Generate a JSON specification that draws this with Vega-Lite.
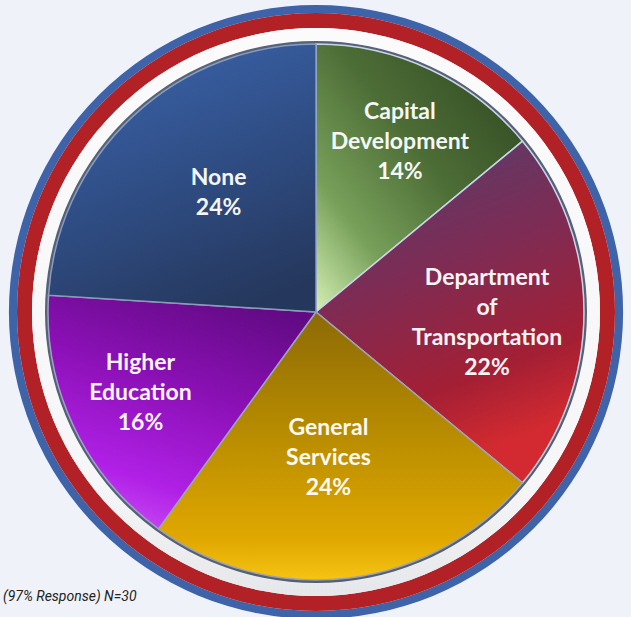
{
  "$schema": "https://vega.github.io/schema/vega-lite/v6.json",
  "width": 632,
  "height": 624,
  "autosize": {"type": "none"},
  "padding": 0,
  "background": "#eff3f9",
  "config": {"view": {"stroke": null}},
  "title": {
    "text": "(97% Response) N=30",
    "orient": "bottom",
    "anchor": "start",
    "frame": "group",
    "offset": -34,
    "dx": 3,
    "font": "Roboto",
    "fontSize": 14,
    "fontStyle": "italic",
    "fontWeight": "normal",
    "color": "#222222"
  },
  "layer": [
    {
      "data": {"values": [{"ring": "outer"}]},
      "mark": {"type": "arc", "radius": 307, "radius2": 299, "theta": 6.2832, "fill": "#3f63a8"},
      "encoding": {}
    },
    {
      "data": {"values": [{"ring": "red"}]},
      "mark": {"type": "arc", "radius": 299, "radius2": 284, "theta": 6.2832, "fill": "#b22126"},
      "encoding": {}
    },
    {
      "data": {"values": [{"ring": "white"}]},
      "mark": {"type": "arc", "radius": 284, "radius2": 0, "theta": 6.2832,
        "fill": {"gradient": "linear", "x1": 0, "y1": 0, "x2": 0, "y2": 1,
          "stops": [{"offset": 0, "color": "#fbfbfc"}, {"offset": 0.8, "color": "#f6f6f8"}, {"offset": 1, "color": "#e6e7ea"}]}},
      "encoding": {}
    },
    {
      "data": {"values": [{"ring": "edge"}]},
      "mark": {"type": "arc", "radius": 271, "radius2": 266, "theta": 6.2832, "fill": "#3a4660", "opacity": 0.85},
      "encoding": {}
    },
    {
      "data": {
        "values": [
          {"category": "Capital Development", "label": "Capital\nDevelopment", "value": 14, "order": 1},
          {"category": "Department of Transportation", "label": "Department\nof\nTransportation", "value": 22, "order": 2},
          {"category": "General Services", "label": "General\nServices", "value": 24, "order": 3},
          {"category": "Higher Education", "label": "Higher\nEducation", "value": 16, "order": 4},
          {"category": "None", "label": "None", "value": 24, "order": 5}
        ]
      },
      "transform": [
        {"stack": "value", "groupby": [], "sort": [{"field": "order"}], "as": ["v0", "v1"]},
        {"calculate": "(datum.v0 + datum.v1) / 2", "as": "mid"},
        {"calculate": "datum.label + '\\n' + datum.value + '%'", "as": "txt"}
      ],
      "layer": [
        {
          "transform": [{"filter": "datum.category == 'Capital Development'"}],
          "mark": {"type": "arc", "radius": 268, "stroke": "#c9d6ea", "strokeWidth": 1.5,
            "fill": {"gradient": "linear", "x1": 1, "y1": 0, "x2": 0, "y2": 1,
              "stops": [{"offset": 0, "color": "#2c441f"}, {"offset": 0.45, "color": "#4d6d36"}, {"offset": 0.75, "color": "#78a05a"}, {"offset": 1, "color": "#d4f0b4"}]}},
          "encoding": {
            "theta": {"field": "v0", "type": "quantitative", "scale": {"domain": [0, 100]}, "stack": null},
            "theta2": {"field": "v1"}
          }
        },
        {
          "transform": [{"filter": "datum.category == 'Department of Transportation'"}],
          "mark": {"type": "arc", "radius": 268, "stroke": "#c9d6ea", "strokeWidth": 1.5,
            "fill": {"gradient": "linear", "x1": 0, "y1": 0, "x2": 0.3, "y2": 1,
              "stops": [{"offset": 0, "color": "#4f416f"}, {"offset": 0.45, "color": "#7d2c55"}, {"offset": 0.8, "color": "#a41f34"}, {"offset": 1, "color": "#d22a30"}]}},
          "encoding": {
            "theta": {"field": "v0", "type": "quantitative", "scale": {"domain": [0, 100]}, "stack": null},
            "theta2": {"field": "v1"}
          }
        },
        {
          "transform": [{"filter": "datum.category == 'General Services'"}],
          "mark": {"type": "arc", "radius": 268, "stroke": "#9aa3b5", "strokeWidth": 1.5,
            "fill": {"gradient": "linear", "x1": 0, "y1": 0, "x2": 0, "y2": 1,
              "stops": [{"offset": 0, "color": "#8c6a06"}, {"offset": 0.45, "color": "#b88c00"}, {"offset": 0.85, "color": "#e0a800"}, {"offset": 1, "color": "#f6c414"}]}},
          "encoding": {
            "theta": {"field": "v0", "type": "quantitative", "scale": {"domain": [0, 100]}, "stack": null},
            "theta2": {"field": "v1"}
          }
        },
        {
          "transform": [{"filter": "datum.category == 'Higher Education'"}],
          "mark": {"type": "arc", "radius": 268, "stroke": "#9aa3c5", "strokeWidth": 1.5,
            "fill": {"gradient": "linear", "x1": 0.7, "y1": 0, "x2": 0.3, "y2": 1,
              "stops": [{"offset": 0, "color": "#620a84"}, {"offset": 0.4, "color": "#8a10b4"}, {"offset": 0.8, "color": "#b020e6"}, {"offset": 1, "color": "#c848f4"}]}},
          "encoding": {
            "theta": {"field": "v0", "type": "quantitative", "scale": {"domain": [0, 100]}, "stack": null},
            "theta2": {"field": "v1"}
          }
        },
        {
          "transform": [{"filter": "datum.category == 'None'"}],
          "mark": {"type": "arc", "radius": 268, "stroke": "#8a9cbc", "strokeWidth": 1.5,
            "fill": {"gradient": "linear", "x1": 0.3, "y1": 0, "x2": 0.7, "y2": 1,
              "stops": [{"offset": 0, "color": "#3a62a8"}, {"offset": 0.5, "color": "#2f4d84"}, {"offset": 1, "color": "#25375c"}]}},
          "encoding": {
            "theta": {"field": "v0", "type": "quantitative", "scale": {"domain": [0, 100]}, "stack": null},
            "theta2": {"field": "v1"}
          }
        },
        {
          "transform": [{"filter": "datum.category == 'Capital Development'"}],
          "mark": {"type": "text", "radius": 190, "dx": 3, "dy": -28, "font": "Lato", "fontSize": 23, "fontWeight": "bold", "color": "#ffffff", "opacity": 0.95, "lineBreak": "\n", "lineHeight": 30, "align": "center", "baseline": "middle"},
          "encoding": {
            "theta": {"field": "mid", "type": "quantitative", "scale": {"domain": [0, 100]}, "stack": null},
            "text": {"field": "txt"}
          }
        },
        {
          "transform": [{"filter": "datum.category == 'Department of Transportation'"}],
          "mark": {"type": "text", "radius": 171, "dy": -34, "font": "Lato", "fontSize": 23, "fontWeight": "bold", "color": "#ffffff", "opacity": 0.95, "lineBreak": "\n", "lineHeight": 30, "align": "center", "baseline": "middle"},
          "encoding": {
            "theta": {"field": "mid", "type": "quantitative", "scale": {"domain": [0, 100]}, "stack": null},
            "text": {"field": "txt"}
          }
        },
        {
          "transform": [{"filter": "datum.category == 'General Services'"}],
          "mark": {"type": "text", "radius": 147, "dx": -6, "dy": -30, "font": "Lato", "fontSize": 23, "fontWeight": "bold", "color": "#ffffff", "opacity": 0.95, "lineBreak": "\n", "lineHeight": 30, "align": "center", "baseline": "middle"},
          "encoding": {
            "theta": {"field": "mid", "type": "quantitative", "scale": {"domain": [0, 100]}, "stack": null},
            "text": {"field": "txt"}
          }
        },
        {
          "transform": [{"filter": "datum.category == 'Higher Education'"}],
          "mark": {"type": "text", "radius": 194, "dy": -32, "font": "Lato", "fontSize": 23, "fontWeight": "bold", "color": "#ffffff", "opacity": 0.95, "lineBreak": "\n", "lineHeight": 30, "align": "center", "baseline": "middle"},
          "encoding": {
            "theta": {"field": "mid", "type": "quantitative", "scale": {"domain": [0, 100]}, "stack": null},
            "text": {"field": "txt"}
          }
        },
        {
          "transform": [{"filter": "datum.category == 'None'"}],
          "mark": {"type": "text", "radius": 154, "dx": 8, "dy": -22, "font": "Lato", "fontSize": 23, "fontWeight": "bold", "color": "#ffffff", "opacity": 0.95, "lineBreak": "\n", "lineHeight": 30, "align": "center", "baseline": "middle"},
          "encoding": {
            "theta": {"field": "mid", "type": "quantitative", "scale": {"domain": [0, 100]}, "stack": null},
            "text": {"field": "txt"}
          }
        }
      ]
    }
  ]
}
